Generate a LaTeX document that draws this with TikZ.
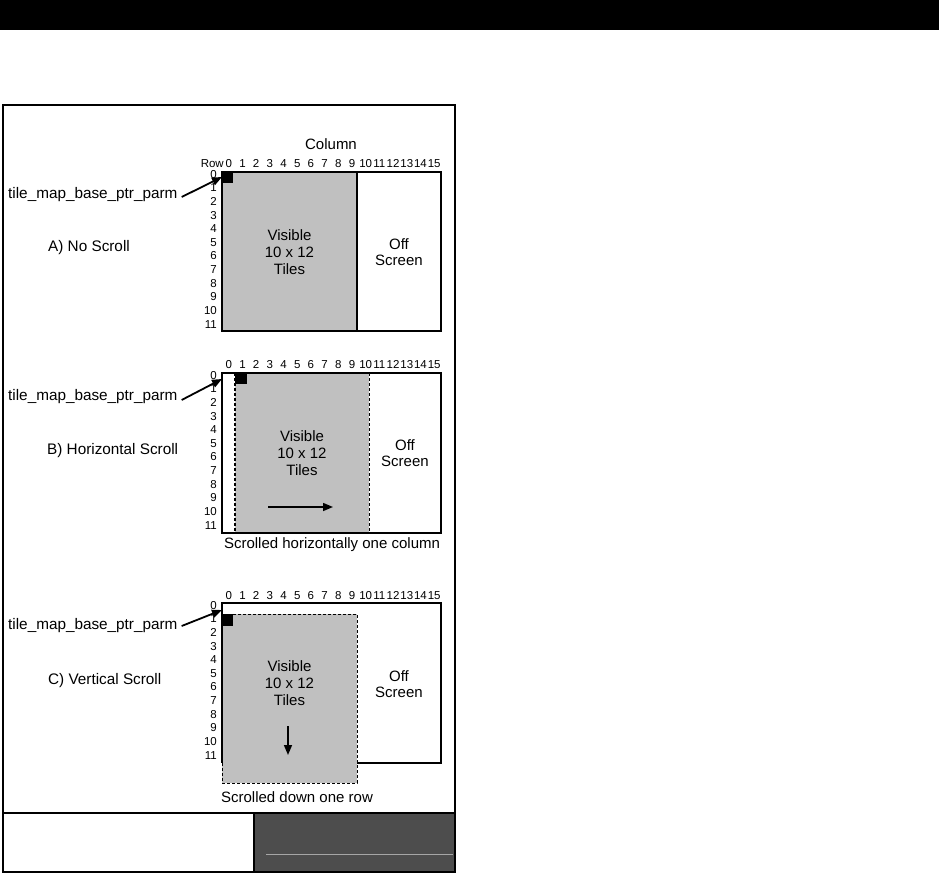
\documentclass[tikz,border=0pt]{standalone}
\usepackage{fontspec}
\setmainfont{Liberation Sans}
\usetikzlibrary{arrows.meta}
\definecolor{tilegray}{RGB}{192,192,192}
\definecolor{darkpanel}{RGB}{77,77,77}
\tikzset{
  x=1pt, y=-1pt,
  txt/.style={inner sep=0pt, font=\fontsize{15}{16.7}\selectfont, align=center},
  lbl/.style={inner sep=0pt, font=\fontsize{15.3}{16.7}\selectfont, anchor=west},
  numlbl/.style={inner sep=0pt, font=\fontsize{11.5}{12}\selectfont, anchor=base},
  rowlbl/.style={inner sep=0pt, font=\fontsize{11.5}{12}\selectfont, anchor=base east},
  ptr/.style={line width=1.8pt, -{Triangle[length=10pt,width=8pt]}},
  mv/.style={line width=1.5pt, -{Triangle[length=10pt,width=8pt]}},
  grid/.style={line width=1.1pt},
  dsh/.style={line width=0.9pt, dash pattern=on 3pt off 2pt},
}
\begin{document}
\begin{tikzpicture}
\useasboundingbox (0,0) rectangle (939,873);
% top bar
\fill[black] (0,0) rectangle (939,30);
% outer frame and footer
\fill[darkpanel] (254,813) rectangle (455,872);
\draw[gray!70, line width=0.8pt] (266,854) -- (453,854);
\draw[line width=1.5pt] (3,105) rectangle (455,872);
\draw[line width=1.5pt] (3,813) -- (455,813);
\draw[line width=1.2pt] (254,813) -- (254,872);

% ---------- Panel A ----------
\begin{scope}[shift={(0,172)}]
  \fill[tilegray] (222,0) rectangle (357,159);
  \draw[grid] (222,0) rectangle (441,159);
  \draw[grid] (357,0) -- (357,159);
  \draw[line width=2.2pt] (222,159) -- (441,159);
  \fill[black] (222,0) rectangle (233,11);
  \coordinate (aTarget) at (222,5);
  \node[txt] (aColumn) at (331,-28) {Column};
  \node[numlbl, anchor=base east] (aRow) at (224,-4.9) {Row};
  \foreach \i in {0,...,15} \node[numlbl] (aC\i) at ({228.8+\i*13.69},-4.9) {\i};
  \foreach \i in {0,...,11} \node[rowlbl] (aR\i) at (217,{6.1+\i*13.64}) {\i};
  \node[lbl] (aPtr) at (8,23) {tile\_map\_base\_ptr\_parm};
  \node[lbl] (aName) at (48,76) {A) No Scroll};
  \node[txt] (aVis) at (289.5,80) {Visible\\10 x 12\\Tiles};
  \node[txt] (aOff) at (399,80) {Off\\Screen};
  \draw[ptr] (aPtr.east) ++(4,2) -- (aTarget);
\end{scope}

% ---------- Panel B ----------
\begin{scope}[shift={(0,373)}]
  \fill[tilegray] (235,0) rectangle (369,160);
  \draw[grid] (222,0) rectangle (441,160);
  \draw[dsh, line width=1.6pt] (235,0) -- (235,160);
  \draw[dsh] (369,0) -- (369,160);
  \fill[black] (235,0) rectangle (247,11);
  \coordinate (bTarget) at (222,6);
  \foreach \i in {0,...,15} \node[numlbl] (bC\i) at ({228.8+\i*13.69},-4.9) {\i};
  \foreach \i in {0,...,11} \node[rowlbl] (bR\i) at (217,{6.1+\i*13.64}) {\i};
  \node[lbl] (bPtr) at (8,24) {tile\_map\_base\_ptr\_parm};
  \node[lbl] (bName) at (47,78) {B) Horizontal Scroll};
  \node[txt] (bVis) at (302,80) {Visible\\10 x 12\\Tiles};
  \node[txt] (bOff) at (405,80) {Off\\Screen};
  \coordinate (bMvS) at (268,134);
  \coordinate (bMvE) at (333,134);
  \draw[mv] (bMvS) -- (bMvE);
  \node[txt] (bNote) at (332,172) {Scrolled horizontally one column};
  \draw[ptr] (bPtr.east) ++(4,3) -- (bTarget);
\end{scope}

% ---------- Panel C ----------
\begin{scope}[shift={(0,603)}]
  \fill[tilegray] (222,11) rectangle (357,180);
  \draw[grid] (357,160) -- (441,160) -- (441,0) -- (222,0) -- (222,160);
  \draw[dsh] (222,160) -- (222,180) -- (357,180) -- (357,11) -- (222,11);
  \fill[black] (222,11) rectangle (233,23);
  \coordinate (cTarget) at (222,7);
  \foreach \i in {0,...,15} \node[numlbl] (cC\i) at ({228.8+\i*13.69},-3.9) {\i};
  \foreach \i in {0,...,11} \node[rowlbl] (cR\i) at (217,{6.1+\i*13.64}) {\i};
  \node[lbl] (cPtr) at (8,23) {tile\_map\_base\_ptr\_parm};
  \node[lbl] (cName) at (48,78) {C) Vertical Scroll};
  \node[txt] (cVis) at (289.5,80) {Visible\\10 x 12\\Tiles};
  \node[txt] (cOff) at (399,81) {Off\\Screen};
  \coordinate (cMvS) at (288,123);
  \coordinate (cMvE) at (288,152);
  \draw[mv] (cMvS) -- (cMvE);
  \node[txt] (cNote) at (297,194) {Scrolled down one row};
  \draw[ptr] (cPtr.east) ++(4,0) -- (cTarget);
\end{scope}
\end{tikzpicture}
\end{document}
